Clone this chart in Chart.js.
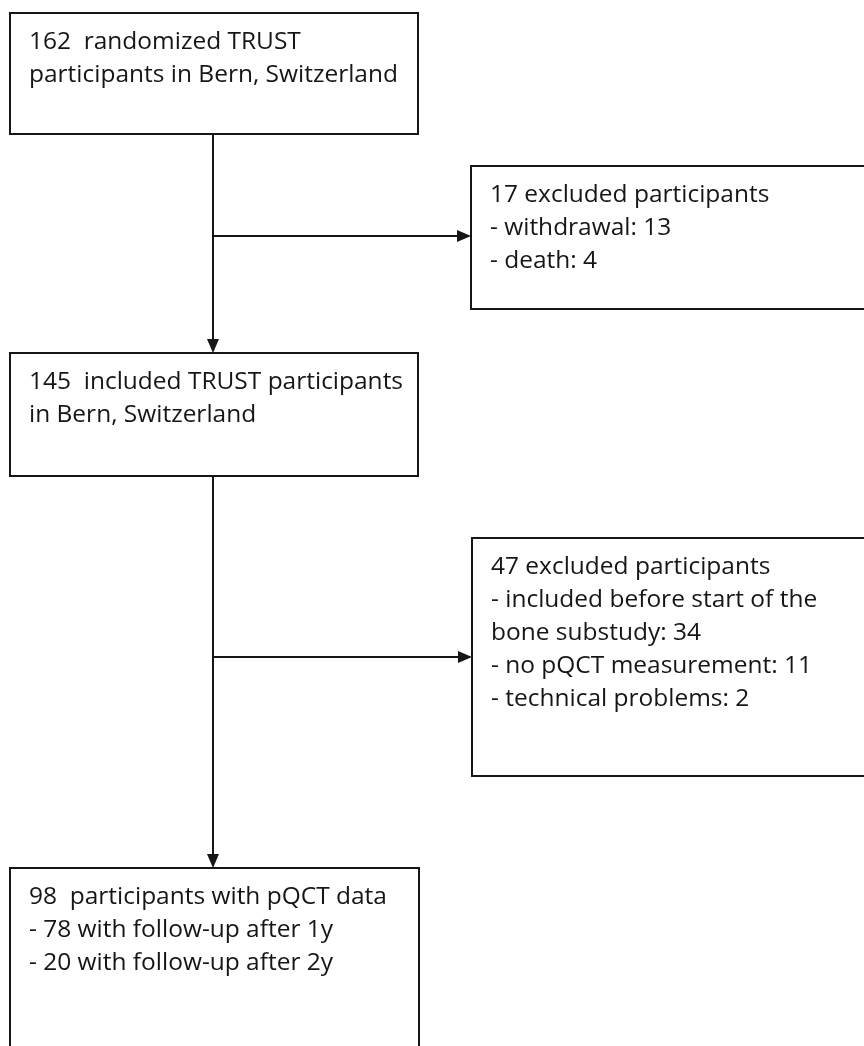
<!DOCTYPE html>
<html>
<head>
<meta charset="utf-8">
<script src="https://cdn.jsdelivr.net/npm/chart.js@4"></script>
<style>
  html, body { margin: 0; padding: 0; background: #fff; }
  #wrap { width: 864px; height: 1046px; }
</style>
</head>
<body>
<div id="wrap"><canvas id="flowChart"></canvas></div>
<script>
// Flow numbers
const stageCounts = [162, 145, 98];
const exclusionTotals = [17, 47];
const exclusionReasons = [
    ['withdrawal', 'death'],
    ['included before start of the|bone substudy', 'no pQCT measurement', 'technical problems']
];
const exclusionCounts = [[13, 4], [34, 11, 2]];
const followUpYears = ['1y', '2y'];
const followUpCounts = [78, 20];

// text of every box, built from the arrays above
const boxText = [
    [stageCounts[0] + '  randomized TRUST', 'participants in Bern, Switzerland'],
    [stageCounts[1] + '  included TRUST participants', 'in Bern, Switzerland'],
    [stageCounts[2] + '  participants with pQCT data']
        .concat(followUpCounts.map((n, i) => '- ' + n + ' with follow-up after ' + followUpYears[i])),
    [exclusionTotals[0] + ' excluded participants']
        .concat(exclusionReasons[0].map((r, i) => ('- ' + r + ': ' + exclusionCounts[0][i]).split('|')).flat()),
    [exclusionTotals[1] + ' excluded participants']
        .concat(exclusionReasons[1].map((r, i) => ('- ' + r + ': ' + exclusionCounts[1][i]).split('|')).flat())
];

// layout in axis units (x 0..864, y 0..1046, y grows down)
const boxes = [
    { x0: 10, x1: 418, y0: 13, y1: 134 },
    { x0: 10, x1: 418, y0: 353, y1: 476 },
    { x0: 10, x1: 419, y0: 868, y1: 1070 },
    { x0: 471, x1: 890, y0: 166, y1: 309 },
    { x0: 472, x1: 890, y0: 538, y1: 776 }
];
const spineX = 213;
const branchY = [236, 657];

const ink = '#161616';
const fontFamily = '"Open Sans", Lato, sans-serif';

function arrowHead(ctx, x, y, dir) {
    const len = 14, half = 6;
    ctx.beginPath();
    if (dir === 'down') {
        ctx.moveTo(x, y);
        ctx.lineTo(x - half, y - len);
        ctx.lineTo(x + half, y - len);
    } else {
        ctx.moveTo(x, y);
        ctx.lineTo(x - len, y - half);
        ctx.lineTo(x - len, y + half);
    }
    ctx.closePath();
    ctx.fill();
}

const flowPlugin = {
    id: 'flow',
    afterDraw(chart) {
        const ctx = chart.ctx;
        const sx = chart.scales.x, sy = chart.scales.y;
        const px = v => sx.getPixelForValue(v);
        const py = v => sy.getPixelForValue(v);
        ctx.save();
        ctx.strokeStyle = ink;
        ctx.fillStyle = ink;
        ctx.lineWidth = 2;

        // font size chosen so the longest first-box line spans the box like the original
        ctx.font = '20px ' + fontFamily;
        const w20 = ctx.measureText(boxText[0][1]).width;
        const size = 20 * (px(398) - px(29)) / w20;
        ctx.font = size.toFixed(2) + 'px ' + fontFamily;
        ctx.textBaseline = 'alphabetic';
        ctx.textAlign = 'left';

        // boxes and their text
        boxes.forEach((b, i) => {
            ctx.strokeRect(px(b.x0), py(b.y0), px(b.x1) - px(b.x0), py(b.y1) - py(b.y0));
            boxText[i].forEach((line, k) => {
                ctx.fillText(line, px(b.x0 + 19), py(b.y0 + 36 + k * 33));
            });
        });

        // main spine with arrows into the next stage
        ctx.beginPath();
        ctx.moveTo(px(spineX), py(boxes[0].y1));
        ctx.lineTo(px(spineX), py(boxes[1].y0) - 12);
        ctx.moveTo(px(spineX), py(boxes[1].y1));
        ctx.lineTo(px(spineX), py(boxes[2].y0) - 12);
        ctx.stroke();
        arrowHead(ctx, px(spineX), py(boxes[1].y0), 'down');
        arrowHead(ctx, px(spineX), py(boxes[2].y0), 'down');

        // branches to the exclusion boxes
        branchY.forEach((y, i) => {
            const target = boxes[3 + i];
            ctx.beginPath();
            ctx.moveTo(px(spineX), py(y));
            ctx.lineTo(px(target.x0) - 12, py(y));
            ctx.stroke();
            arrowHead(ctx, px(target.x0), py(y), 'right');
        });
        ctx.restore();
    }
};

const ctx = document.getElementById('flowChart').getContext('2d');
const flowChart = new Chart(ctx, {
    type: 'scatter',
    data: { datasets: [{ data: [], pointRadius: 0 }] },
    options: {
        responsive: true,
        maintainAspectRatio: false,
        animation: false,
        layout: { padding: 0 },
        plugins: { legend: { display: false }, tooltip: { enabled: false } },
        scales: {
            x: { type: 'linear', min: 0, max: 864, display: false },
            y: { type: 'linear', min: 0, max: 1046, reverse: true, display: false }
        }
    },
    plugins: [flowPlugin]
});
</script>
</body>
</html>
